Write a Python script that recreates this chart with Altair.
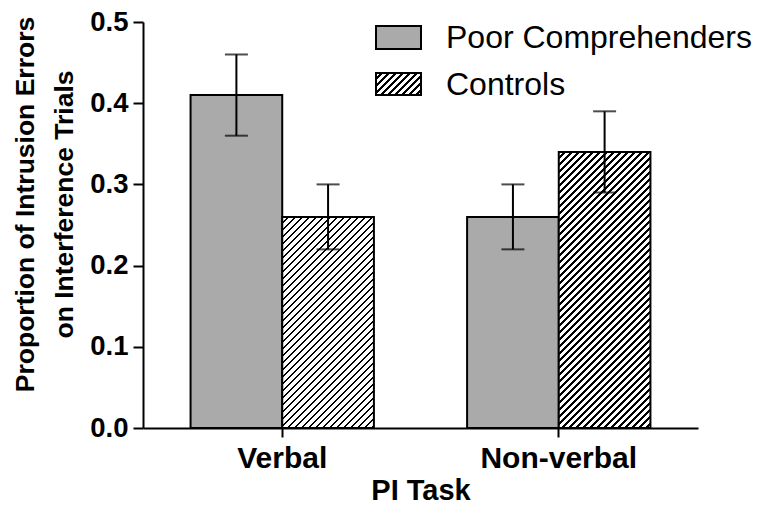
import altair as alt
import pandas as pd

# ---- data ----
tasks = ["Verbal", "Non-verbal"]
groups = ["Poor Comprehenders", "Controls"]
means_pc = [0.41, 0.26]
means_ctrl = [0.26, 0.34]
lo_pc = [0.36, 0.22]
hi_pc = [0.46, 0.30]
lo_ctrl = [0.22, 0.29]
hi_ctrl = [0.30, 0.39]
y_ticks = [0.0, 0.1, 0.2, 0.3, 0.4, 0.5]

rows = []
for i, t in enumerate(tasks):
    rows.append(dict(task=t, group=groups[0], mean=means_pc[i], lo=lo_pc[i], hi=hi_pc[i]))
    rows.append(dict(task=t, group=groups[1], mean=means_ctrl[i], lo=lo_ctrl[i], hi=hi_ctrl[i]))
df = pd.DataFrame(rows)

# ---- layout / style ----
W, H = 555, 406
YMAX = 0.5
FONT = "Liberation Sans"
GRAY = "#aaaaaa"
P_IN, P_OUT = 0.337, 0.172
step = W / (len(tasks) - P_IN + 2 * P_OUT)
bar_w = step * (1 - P_IN) / len(groups)


def hatch(w, h, period=7.0, dark=0.4):
    """Diagonal '/' stripes as a hard-stop linear gradient for a w x h box."""
    total = w + h
    t = total / (w * w + h * h)
    stops = [alt.GradientStop(offset=0, color="white")]
    s = -period * 0.3
    while s < total:
        a = max(0.0, s / total)
        b = min(1.0, (s + dark * period) / total)
        if b > a:
            stops.append(alt.GradientStop(offset=round(a, 5), color="white"))
            stops.append(alt.GradientStop(offset=round(a, 5), color="black"))
            stops.append(alt.GradientStop(offset=round(b, 5), color="black"))
            stops.append(alt.GradientStop(offset=round(b, 5), color="white"))
        s += period
    stops.append(alt.GradientStop(offset=1, color="white"))
    return alt.LinearGradient(gradient="linear", stops=stops,
                              x1=0, y1=0, x2=round(t * w, 5), y2=round(t * h, 5))


x_axis = alt.Axis(title="PI Task", titleFont=FONT, titleFontSize=29, titleFontWeight="bold",
                  titleColor="black", titleY=71, titleBaseline="alphabetic",
                  labelFont=FONT, labelFontSize=30, labelFontWeight="bold", labelColor="black",
                  labelAngle=0, labelPadding=6, tickSize=9, tickWidth=2, tickColor="black",
                  domainColor="black", domainWidth=2, grid=False)
y_axis = alt.Axis(values=y_ticks, format=".1f",
                  title=["Proportion of Intrusion Errors", "on Interference Trials"],
                  titleFont=FONT, titleFontSize=26.5, titleFontWeight="bold", titleColor="black",
                  titleAngle=270, titleX=-110, titleY=182, titleAlign="center",
                  titleBaseline="alphabetic", titleLineHeight=39,
                  labelFont=FONT, labelFontSize=27.5, labelFontWeight="bold", labelColor="black",
                  labelPadding=5, tickSize=10, tickWidth=2, tickColor="black",
                  domainColor="black", domainWidth=2, grid=False)

x_enc = alt.X("task:N", sort=tasks, scale=alt.Scale(domain=tasks, paddingInner=P_IN, paddingOuter=P_OUT), axis=x_axis)
off_enc = alt.XOffset("group:N", sort=groups, scale=alt.Scale(domain=groups, paddingInner=0, paddingOuter=0))
y_scale = alt.Scale(domain=[0, YMAX], nice=False)

base = alt.Chart(df)

pc_bars = base.transform_filter(alt.datum.group == groups[0]).mark_bar(
    fill=GRAY, stroke="black", strokeWidth=2
).encode(x=x_enc, xOffset=off_enc, y=alt.Y("mean:Q", scale=y_scale, axis=y_axis))

ctrl_layers = []
for i, t in enumerate(tasks):
    h = means_ctrl[i] / YMAX * H
    ctrl_layers.append(
        base.transform_filter((alt.datum.group == groups[1]) & (alt.datum.task == t)).mark_bar(
            fill=hatch(bar_w, h), stroke="black", strokeWidth=2
        ).encode(x=x_enc, xOffset=off_enc, y=alt.Y("mean:Q", scale=y_scale, axis=y_axis))
    )

err = base.mark_rule(color="black", strokeWidth=2).encode(
    x=x_enc, xOffset=off_enc,
    y=alt.Y("lo:Q", scale=y_scale, axis=y_axis), y2="hi:Q")
cap_hi = base.mark_tick(color="black", thickness=2, size=23).encode(
    x=x_enc, xOffset=off_enc, y=alt.Y("hi:Q", scale=y_scale, axis=y_axis))
cap_lo = base.mark_tick(color="black", thickness=2, size=23).encode(
    x=x_enc, xOffset=off_enc, y=alt.Y("lo:Q", scale=y_scale, axis=y_axis))

# ---- legend ----
leg1 = pd.DataFrame({"group": [groups[0]]})
leg2 = pd.DataFrame({"group": [groups[1]]})
sw1 = alt.Chart(leg1).mark_rect(fill=GRAY, stroke="black", strokeWidth=2).encode(
    x=alt.value(233), x2=alt.value(278), y=alt.value(4), y2=alt.value(27))
sw2 = alt.Chart(leg2).mark_rect(fill=hatch(45, 22), stroke="black", strokeWidth=2).encode(
    x=alt.value(233), x2=alt.value(278), y=alt.value(51), y2=alt.value(73))
tx1 = alt.Chart(leg1).mark_text(align="left", baseline="alphabetic", font=FONT, fontSize=32,
                                color="black").encode(x=alt.value(303), y=alt.value(26), text="group:N")
tx2 = alt.Chart(leg2).mark_text(align="left", baseline="alphabetic", font=FONT, fontSize=32,
                                color="black").encode(x=alt.value(303), y=alt.value(73), text="group:N")

chart = alt.layer(pc_bars, *ctrl_layers, err, cap_hi, cap_lo, sw1, sw2, tx1, tx2).properties(
    width=W, height=H,
    autosize=alt.AutoSizeParams(type="none"),
    padding={"left": 135, "top": 14, "right": 63, "bottom": 76},
    background="white",
).configure_view(stroke=None)

chart.save("out.html", embed_options={"renderer": "svg", "actions": False})
